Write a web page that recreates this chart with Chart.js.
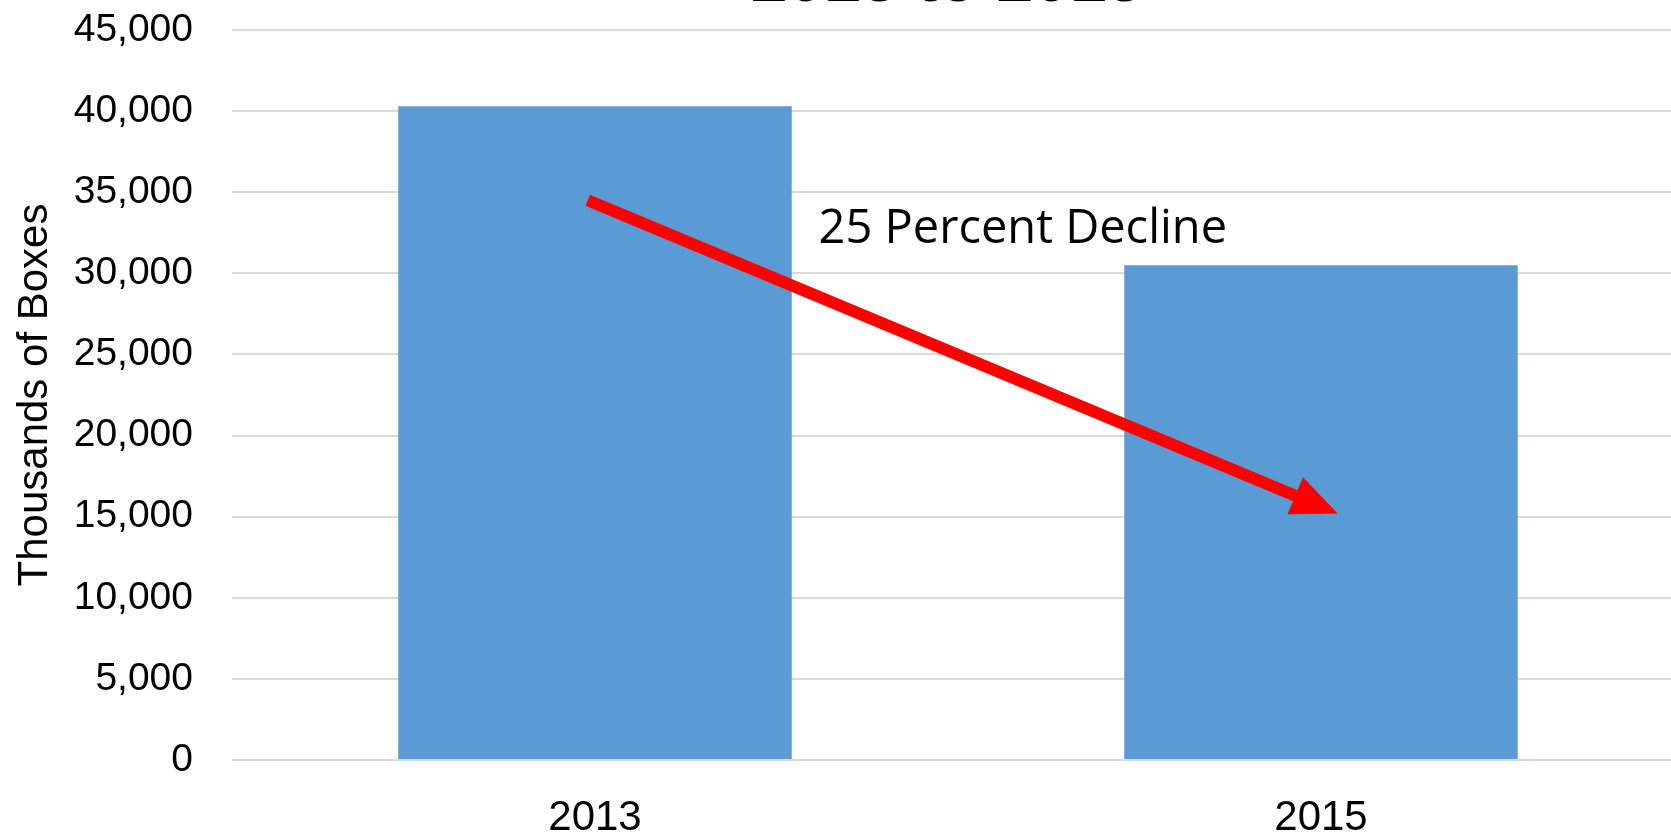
<!DOCTYPE html>
<html lang="en">
<head>
  <meta charset="UTF-8" />
  <title>Thousands of Boxes, 2013 to 2015</title>
  <style>
    body { margin: 0; background: #fff; overflow: hidden; }
    /* plot area runs a little past the right edge of the picture */
    #chart-container { width: 1684px; height: 832px; }
  </style>
  <script src="https://cdn.jsdelivr.net/npm/chart.js"></script>
</head>
<body>
  <div id="chart-container">
    <canvas id="boxChart" width="1684" height="832"></canvas>
  </div>

  <script>
    // Data
    const years = ['2013', '2015'];
    const boxes = [40300, 30500];
    const yTicks = [0, 5000, 10000, 15000, 20000, 25000, 30000, 35000, 40000, 45000];

    // Annotation: arrow and label, in data units (category index, value)
    const arrowFrom = [-0.01, 34500];
    const arrowTo = [1.023, 15200];
    const noteText = '25 Percent Decline';
    const notePos = [0.308, 31900];
    const titleText = '2013 to 2015';

    // Draws the cut-off title, the red arrow and its label
    const annotations = {
      id: 'annotations',
      afterDatasetsDraw(chart) {
        const { ctx, scales: { x, y } } = chart;
        ctx.save();

        // title (mostly above the picture)
        ctx.fillStyle = '#000';
        ctx.font = 'bold 66px "Liberation Sans", sans-serif';
        ctx.textAlign = 'center';
        ctx.textBaseline = 'alphabetic';
        ctx.fillText(titleText, 947, 1);

        // arrow
        const x0 = x.getPixelForValue(arrowFrom[0]);
        const y0 = y.getPixelForValue(arrowFrom[1]);
        const x1 = x.getPixelForValue(arrowTo[0]);
        const y1 = y.getPixelForValue(arrowTo[1]);
        const ang = Math.atan2(y1 - y0, x1 - x0);
        const headLen = 46, headW = 20;
        const bx = x1 - headLen * Math.cos(ang);
        const by = y1 - headLen * Math.sin(ang);
        ctx.strokeStyle = '#FF0000';
        ctx.fillStyle = '#FF0000';
        ctx.lineWidth = 12;
        ctx.lineCap = 'butt';
        ctx.beginPath();
        ctx.moveTo(x0, y0);
        ctx.lineTo(bx + 2 * Math.cos(ang), by + 2 * Math.sin(ang));
        ctx.stroke();
        ctx.beginPath();
        ctx.moveTo(x1, y1);
        ctx.lineTo(bx + headW * Math.sin(ang), by - headW * Math.cos(ang));
        ctx.lineTo(bx - headW * Math.sin(ang), by + headW * Math.cos(ang));
        ctx.closePath();
        ctx.fill();

        // label
        ctx.fillStyle = '#000';
        ctx.font = '47px "Open Sans", sans-serif';
        ctx.textAlign = 'left';
        ctx.fillText(noteText, x.getPixelForValue(notePos[0]), y.getPixelForValue(notePos[1]));
        ctx.restore();
      }
    };

    const ctx = document.getElementById('boxChart').getContext('2d');
    const boxChart = new Chart(ctx, {
      type: 'bar',
      data: {
        labels: years,
        datasets: [{
          label: 'Thousands of Boxes',
          data: boxes,
          backgroundColor: '#5B9BD5',
          borderWidth: 0,
          barPercentage: 0.542,
          categoryPercentage: 1
        }]
      },
      options: {
        responsive: false,
        animation: { duration: 0 },
        layout: { padding: { top: 30, right: 0, left: 0, bottom: 0 } },
        plugins: {
          legend: { display: false },
          tooltip: { enabled: false }
        },
        scales: {
          x: {
            afterFit(scale) {
              scale.height = 72;
              scale.paddingLeft = 0;
              scale.paddingRight = 0;
            },
            grid: { display: false, drawTicks: false },
            border: { display: false },
            ticks: {
              color: '#000',
              padding: 33,
              font: { family: '"Liberation Sans", sans-serif', size: 42 }
            }
          },
          y: {
            min: 0,
            max: 45000,
            afterBuildTicks(scale) {
              scale.ticks = yTicks.map(v => ({ value: v }));
            },
            afterFit(scale) {
              scale.width = 232;
              scale.paddingTop = 0;
              scale.paddingBottom = 0;
            },
            grid: { color: '#D9D9D9', lineWidth: 2, drawTicks: false },
            border: { display: false },
            ticks: {
              color: '#000',
              padding: 39,
              font: { family: '"Liberation Sans", sans-serif', size: 39 },
              callback: v => v.toLocaleString('en-US')
            },
            title: {
              display: true,
              text: 'Thousands of Boxes',
              color: '#000',
              padding: { top: 10, bottom: 14 },
              font: { family: '"Liberation Sans", sans-serif', size: 42 }
            }
          }
        }
      },
      plugins: [annotations]
    });
  </script>
</body>
</html>
